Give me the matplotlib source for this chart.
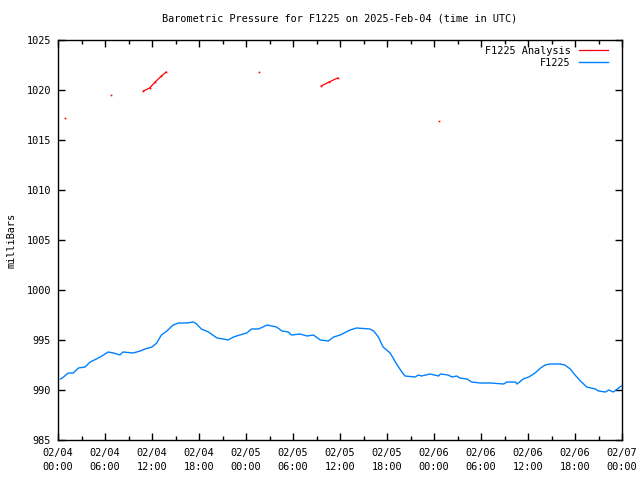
import matplotlib
matplotlib.use("Agg")
import matplotlib.pyplot as plt
import numpy as np

# Observed station pressure (hours since 2025-02-04 00:00 UTC)
obs_hours = [0.3, 0.55, 1.3, 1.96, 2.6, 3.45, 4.1, 4.9, 5.6, 6.4, 7.1, 7.9, 8.3, 9.6, 10.5,
             11.1, 12.0, 12.6, 13.2, 13.9, 14.7, 15.4, 16.4, 17.3, 17.7, 18.3, 19.2, 20.3,
             21.1, 21.7, 22.4, 23.2, 24.1, 24.7, 25.6, 26.7, 27.9, 28.6, 29.4, 29.8, 30.9,
             31.8, 32.6, 33.5, 34.5, 35.2, 36.0, 37.3, 38.1, 39.8, 40.3, 40.9, 41.5, 42.4,
             43.3, 43.9, 44.3, 45.6, 46.0, 46.4, 47.5, 48.6, 48.8, 49.8, 50.3, 50.9, 51.3,
             52.2, 52.8, 53.9, 55.2, 56.9, 57.3, 58.4, 58.6, 59.4, 60.1, 60.9, 61.6, 62.2,
             62.8, 64.1, 64.7, 65.4, 66.0, 66.7, 67.5, 68.6, 69.0, 69.9, 70.3, 70.9, 71.4,
             71.9]
obs_mb = [991.1, 991.2, 991.7, 991.7, 992.2, 992.3, 992.8, 993.1, 993.4, 993.8, 993.7, 993.5,
          993.8, 993.7, 993.9, 994.1, 994.3, 994.7, 995.5, 995.9, 996.5, 996.7, 996.7, 996.8,
          996.6, 996.1, 995.8, 995.2, 995.1, 995.0, 995.3, 995.5, 995.7, 996.1, 996.1, 996.5,
          996.3, 995.9, 995.8, 995.5, 995.6, 995.4, 995.5, 995.0, 994.9, 995.3, 995.5, 996.0,
          996.2, 996.1, 995.9, 995.3, 994.3, 993.7, 992.5, 991.8, 991.4, 991.3, 991.5, 991.4,
          991.6, 991.4, 991.6, 991.5, 991.3, 991.4, 991.2, 991.1, 990.8, 990.7, 990.7, 990.6,
          990.8, 990.8, 990.6, 991.1, 991.3, 991.7, 992.2, 992.5, 992.6, 992.6, 992.5, 992.1,
          991.5, 990.9, 990.3, 990.1, 989.9, 989.8, 990.0, 989.8, 990.1, 990.4]

# Analysis values (NaN separates segments)
ana_hours = [0.93, np.nan, 6.8, np.nan, 10.9, 11.7, 12.4, 13.2, 13.8, np.nan, 25.7, np.nan,
             33.6, 34.6, 35.7, np.nan, 48.7]
ana_mb = [1017.2, np.nan, 1019.5, np.nan, 1019.9, 1020.2, 1020.8, 1021.4, 1021.8, np.nan,
          1021.8, np.nan, 1020.4, 1020.8, 1021.2, np.nan, 1016.9]

tick_hours = list(range(0, 73, 6))
tick_labels = ["02/04\n00:00", "02/04\n06:00", "02/04\n12:00", "02/04\n18:00",
               "02/05\n00:00", "02/05\n06:00", "02/05\n12:00", "02/05\n18:00",
               "02/06\n00:00", "02/06\n06:00", "02/06\n12:00", "02/06\n18:00",
               "02/07\n00:00"]
y_ticks = list(range(985, 1026, 5))

plt.rcParams['font.family'] = ['DejaVu Sans Mono']
fs = 7.4

fig = plt.figure(figsize=(6.4, 4.8), dpi=100)
ax = fig.add_axes([58 / 640, 40 / 480, 564 / 640, 400 / 480])

ax.plot(ana_hours, ana_mb, color='#ff0000', lw=0.9, label='F1225 Analysis')
ax.plot(ana_hours, ana_mb, color='#ff0000', lw=0, marker='s', markersize=1.2,
        markeredgewidth=0)
ax.plot(obs_hours, obs_mb, color='#0080ff', lw=1.0, label='F1225')

ax.set_xlim(0, 72)
ax.set_ylim(985, 1025)
ax.set_xticks(tick_hours)
ax.set_xticklabels(tick_labels, fontsize=fs, linespacing=1.5)
ax.set_xticks(np.arange(3, 72, 6), minor=True)
ax.set_yticks(y_ticks)
ax.set_yticklabels([str(v) for v in y_ticks], fontsize=fs)

ax.tick_params(axis='both', which='major', direction='in', length=5, width=1,
               top=True, right=True)
ax.tick_params(axis='x', which='major', pad=6)
ax.tick_params(axis='y', which='major', pad=5)
ax.tick_params(axis='x', which='minor', direction='in', length=3, width=1,
               top=True, bottom=True)
for s in ax.spines.values():
    s.set_linewidth(1.0)

fig.text(12 / 640, 1 - 240 / 480, 'milliBars', rotation=90, ha='center', va='center',
         fontsize=fs)
ax.set_title('Barometric Pressure for F1225 on 2025-Feb-04 (time in UTC)',
             fontsize=fs, pad=13)

leg = ax.legend(loc='upper right', frameon=False, markerfirst=False, fontsize=fs,
                handlelength=2.9, handletextpad=0.8, labelspacing=0.2,
                borderaxespad=0.25, borderpad=0.3)
leg.set_bbox_to_anchor((1 - 8 / 564, 1.0), transform=ax.transAxes)

fig.savefig('out.png', dpi=100)
